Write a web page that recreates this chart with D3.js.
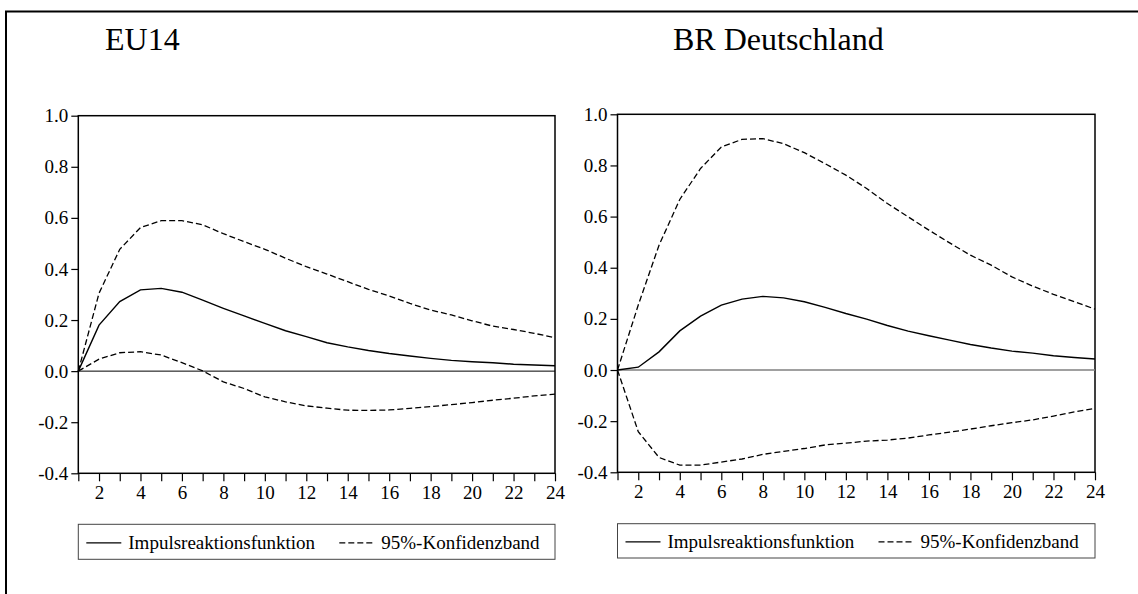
<!DOCTYPE html>
<html>
<head>
<meta charset="utf-8">
<title>Impulsreaktionen</title>
<script src="https://d3js.org/d3.v7.min.js"></script>
<style type="text/css">
  body { margin: 0; background: #fff; }
</style>
</head>
<body>
<div id="chart"></div>
<script type="text/javascript">
var periods = d3.range(1, 25);
var yTicks = [-0.4, -0.2, 0.0, 0.2, 0.4, 0.6, 0.8, 1.0];
var xTickLabels = [2, 4, 6, 8, 10, 12, 14, 16, 18, 20, 22, 24];
var legendLabels = ["Impulsreaktionsfunktion", "95%-Konfidenzband"];

// EU14
var eu14Irf = [0, 0.180, 0.272, 0.318, 0.324, 0.309, 0.278, 0.246, 0.216, 0.187, 0.158, 0.135,
  0.111, 0.095, 0.081, 0.069, 0.059, 0.050, 0.042, 0.037, 0.033, 0.027, 0.024, 0.021];
var eu14Upper = [0, 0.305, 0.477, 0.562, 0.589, 0.589, 0.573, 0.538, 0.507, 0.477, 0.442, 0.409,
  0.380, 0.350, 0.320, 0.294, 0.265, 0.239, 0.220, 0.197, 0.176, 0.163, 0.148, 0.131];
var eu14Lower = [0, 0.047, 0.072, 0.076, 0.063, 0.033, 0.001, -0.042, -0.068, -0.101, -0.120, -0.136,
  -0.145, -0.153, -0.154, -0.152, -0.146, -0.139, -0.131, -0.123, -0.114, -0.106, -0.097, -0.090];

// BR Deutschland
var deIrf = [0, 0.011, 0.071, 0.153, 0.211, 0.254, 0.277, 0.288, 0.282, 0.267, 0.245, 0.221,
  0.199, 0.174, 0.152, 0.134, 0.117, 0.100, 0.086, 0.074, 0.066, 0.056, 0.049, 0.043];
var deUpper = [0, 0.254, 0.488, 0.667, 0.788, 0.872, 0.902, 0.905, 0.885, 0.850, 0.807, 0.762,
  0.710, 0.651, 0.599, 0.547, 0.497, 0.449, 0.410, 0.364, 0.328, 0.296, 0.267, 0.238];
var deLower = [0, -0.241, -0.342, -0.372, -0.372, -0.360, -0.348, -0.330, -0.318, -0.307, -0.293, -0.286,
  -0.278, -0.274, -0.266, -0.254, -0.243, -0.231, -0.218, -0.206, -0.195, -0.180, -0.164, -0.150];

var width = 1138, height = 594;
var serif = "'Liberation Serif', 'Times New Roman', serif";

var svg = d3.select("#chart").append("svg")
  .attr("width", width)
  .attr("height", height)
  .style("font-family", serif);

// outer frame (right and bottom edges run off the picture)
svg.append("path")
  .attr("d", "M6,600 V11.5 H1140")
  .attr("fill", "none")
  .attr("stroke", "#000")
  .attr("stroke-width", 2);

var panels = [
  { title: "EU14", titleX: 105, left: 78.3, right: 555, top: 115.7, bottom: 473.3,
    zeroColor: "#000", zeroWidth: 1, irf: eu14Irf, upper: eu14Upper, lower: eu14Lower,
    legTop: 524.3, legBottom: 559.3 },
  { title: "BR Deutschland", titleX: 673, left: 617.5, right: 1095, top: 114.3, bottom: 472.3,
    zeroColor: "#808080", zeroWidth: 1.6, irf: deIrf, upper: deUpper, lower: deLower,
    legTop: 523.7, legBottom: 558 }
];

var fmt = function(d) { return d3.format(".1f")(d).replace("\u2212", "-"); };

panels.forEach(drawPanel);

function drawPanel(p) {
  var g = svg.append("g");

  g.append("text")
    .attr("x", p.titleX)
    .attr("y", 50)
    .style("font-family", serif)
    .style("font-size", "32px")
    .text(p.title);

  var x = d3.scaleLinear().domain([1, 24]).range([p.left, p.right]);
  var y = d3.scaleLinear().domain([-0.4, 1.0]).range([p.bottom, p.top]);

  // plot frame
  g.append("rect")
    .attr("x", p.left).attr("y", p.top)
    .attr("width", p.right - p.left).attr("height", p.bottom - p.top)
    .attr("fill", "none").attr("stroke", "#000").attr("stroke-width", 1.5);

  // zero line
  g.append("line")
    .attr("x1", p.left).attr("x2", p.right)
    .attr("y1", y(0)).attr("y2", y(0))
    .attr("stroke", p.zeroColor).attr("stroke-width", p.zeroWidth);

  // y axis
  var yAxis = g.append("g")
    .attr("transform", "translate(" + p.left + ",0)")
    .call(d3.axisLeft(y).tickValues(yTicks).tickFormat(fmt).tickSize(7).tickPadding(3));
  yAxis.attr("font-family", null).attr("font-size", null);
  yAxis.select(".domain").remove();
  yAxis.selectAll("line").attr("stroke", "#000").attr("stroke-width", 1.2);
  yAxis.selectAll("text")
    .style("font-family", serif).style("font-size", "19px");

  // x axis: tick on every period, label on even ones
  var xAxis = g.append("g")
    .attr("transform", "translate(0," + p.bottom + ")")
    .call(d3.axisBottom(x).tickValues(periods)
      .tickFormat(function(d) { return xTickLabels.indexOf(d) >= 0 ? d : ""; })
      .tickSize(8).tickPadding(4));
  xAxis.attr("font-family", null).attr("font-size", null);
  xAxis.select(".domain").remove();
  xAxis.selectAll("line").attr("stroke", "#000").attr("stroke-width", 1.2);
  xAxis.selectAll("text")
    .style("font-family", serif).style("font-size", "19px");

  var line = d3.line()
    .x(function(d, i) { return x(periods[i]); })
    .y(function(d) { return y(d); });

  [p.upper, p.lower].forEach(function(s) {
    g.append("path")
      .attr("d", line(s))
      .attr("fill", "none").attr("stroke", "#000")
      .attr("stroke-width", 1.3).attr("stroke-dasharray", "6,3");
  });
  g.append("path")
    .attr("d", line(p.irf))
    .attr("fill", "none").attr("stroke", "#000").attr("stroke-width", 1.4);

  // legend
  var lg = g.append("g");
  lg.append("rect")
    .attr("x", p.left).attr("y", p.legTop)
    .attr("width", p.right - p.left).attr("height", p.legBottom - p.legTop)
    .attr("fill", "none").attr("stroke", "#444").attr("stroke-width", 1);
  var cy = (p.legTop + p.legBottom) / 2 + 1;
  var items = [
    { dash: null, lx: p.left + 8, label: legendLabels[0] },
    { dash: "6,3", lx: p.left + 261, label: legendLabels[1] }
  ];
  items.forEach(function(it) {
    lg.append("line")
      .attr("x1", it.lx).attr("x2", it.lx + 35)
      .attr("y1", cy).attr("y2", cy)
      .attr("stroke", "#000").attr("stroke-width", 1.3)
      .attr("stroke-dasharray", it.dash);
    lg.append("text")
      .attr("x", it.lx + 42)
      .attr("y", cy + 6)
      .style("font-family", serif)
      .style("font-size", "19px")
      .text(it.label);
  });
}
</script>
</body>
</html>
